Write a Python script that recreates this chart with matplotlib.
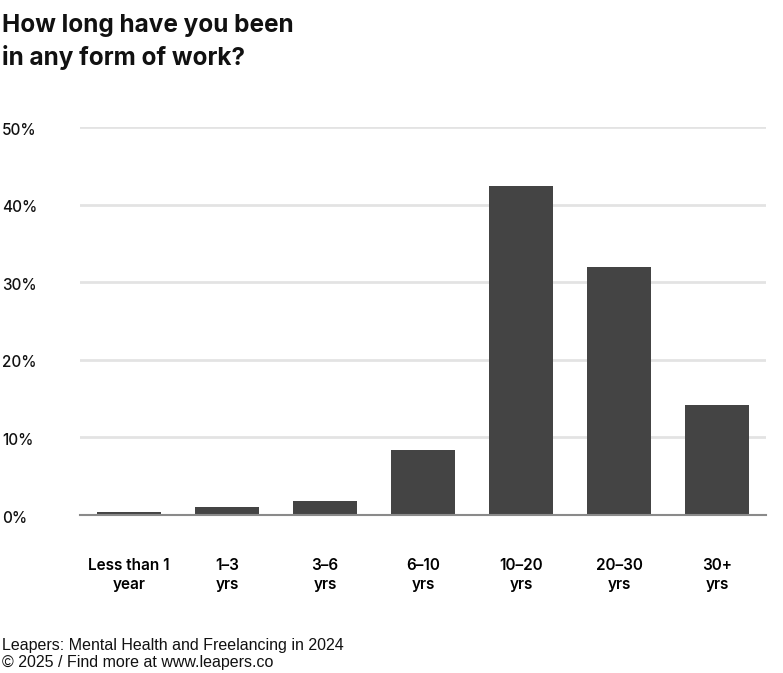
import matplotlib
matplotlib.use("Agg")
import matplotlib.pyplot as plt
import matplotlib.transforms as mtransforms

categories = ["Less than 1\nyear", "1–3\nyrs", "3–6\nyrs", "6–10\nyrs",
              "10–20\nyrs", "20–30\nyrs", "30+\nyrs"]
shares = [0.35, 1.0, 1.85, 8.4, 42.4, 32.0, 14.2]
y_ticks = [0, 10, 20, 30, 40, 50]
y_tick_labels = ["0%", "10%", "20%", "30%", "40%", "50%"]

title = "How long have you been\nin any form of work?"
source = "Leapers: Mental Health and Freelancing in 2024\n© 2025 / Find more at www.leapers.co"

plt.rcParams["font.family"] = ["Inter", "DejaVu Sans"]

fig = plt.figure(figsize=(7.83, 6.73), dpi=100)
ax = fig.add_axes([80 / 783, 1 - 515 / 673, 686 / 783, 388 / 673])

x = list(range(len(categories)))
ax.bar(x, shares, width=0.65, color="#444444", zorder=3)

ax.set_xlim(-0.5, len(categories) - 0.5)
ax.set_ylim(0, 50)
ax.set_yticks(y_ticks)
ax.set_yticklabels([])
ax.tick_params(axis="y", length=0)
ax.grid(axis="y", color="#e3e3e3", linewidth=2, zorder=0)
ax.set_axisbelow(True)

for side in ["top", "right", "left"]:
    ax.spines[side].set_visible(False)
ax.spines["bottom"].set_color("#8a8a8a")
ax.spines["bottom"].set_linewidth(1.5)
ax.spines["bottom"].set_zorder(4)

ax.set_xticks(x)
ax.set_xticklabels(categories, fontsize=11, fontweight="semibold", linespacing=1.35)
ax.tick_params(axis="x", length=0, pad=31)

trans = mtransforms.blended_transform_factory(fig.transFigure, ax.transData)
for v, lab in zip(y_ticks, y_tick_labels):
    ax.text(2 / 783, v - 0.4, lab, transform=trans, ha="left", va="center",
            fontsize=11, fontweight="medium", color="#111111")

fig.text(2 / 783, 1 - 14 / 673, title, ha="left", va="top", fontsize=17.5,
         fontweight="bold", linespacing=1.4, color="#111111")
fig.text(2 / 783, 1 - 638 / 673, source, ha="left", va="top", fontsize=11.5,
         family=["Liberation Sans", "DejaVu Sans"], linespacing=1.2, color="#111111")

fig.savefig("out.png", dpi=100)
